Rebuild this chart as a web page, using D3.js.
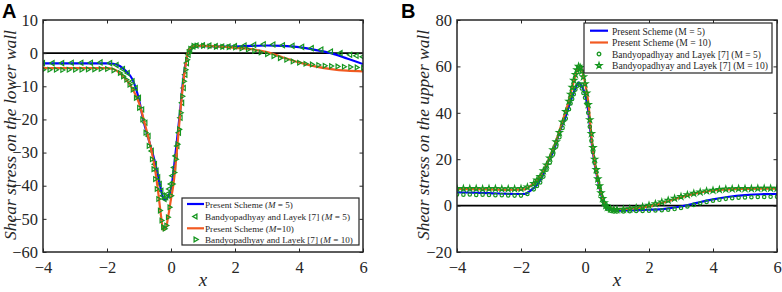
<!DOCTYPE html>
<html><head><meta charset="utf-8">
<script src="https://cdn.jsdelivr.net/npm/d3@7"></script>
</head><body style="margin:0">
<svg id="c" width="782" height="292" font-family="Liberation Serif" style="font-family:'Liberation Serif'"></svg>
<script>
// ---------- Data: panel A (lower wall) ----------
const aBlueX = [-4,-3,-2,-1.8,-1.6,-1.4,-1.2,-1.0,-0.87,-0.7,-0.58,-0.45,-0.34,-0.25,-0.19,-0.1,0.02,0.125,0.2,0.28,0.37,0.45,0.53,0.65,0.85,1.2,1.6,2,2.5,3,3.5,4,4.5,5,5.5,6];
const aBlueY = [-3.1,-3.1,-3.1,-3.2,-3.9,-5.5,-8,-14,-20,-26,-30,-35,-40,-43.5,-44.3,-43.5,-40,-31.7,-25,-18,-9,-3.5,0,1.5,2.1,2.1,2.0,2.0,2.2,2.3,2.2,1.8,1.0,0,-1.6,-3.3];
const aOrangeX = [-4,-3,-2,-1.8,-1.6,-1.4,-1.2,-1.0,-0.8,-0.6,-0.5,-0.4,-0.3,-0.24,-0.15,-0.1,0,0.07,0.18,0.27,0.37,0.45,0.52,0.6,0.8,1,1.5,2,2.5,3,3.5,4,4.5,5,5.5,6];
const aOrangeY = [-4.5,-4.5,-4.5,-4.8,-6,-8,-10.8,-15,-22,-30,-35,-42,-50,-53.4,-52.5,-50,-44,-40,-30,-20,-10,-4,0,1.5,2.2,2.2,2,1.6,1.2,0.3,-1.3,-2.8,-4,-4.8,-5.3,-5.5];
const aRef5X = [-4,-3.7,-3.4,-3.1,-2.8,-2.5,-2.2,-1.9,-1.7,-1.5,-1.35,-1.2,-1.1,-1.0,-0.9,-0.8,-0.7,-0.6,-0.5,-0.45,-0.4,-0.35,-0.3,-0.25,-0.2,-0.15,-0.1,-0.05,0,0.05,0.1,0.15,0.2,0.25,0.3,0.35,0.4,0.45,0.5,0.55,0.6,0.7,0.8,1.0,1.2,1.4,1.6,1.8,2.0,2.3,2.6,2.9,3.2,3.5,3.8,4.1,4.4,4.7,5.0,5.3,5.6,5.8,6.0];
const aRef5Y = [-3.0,-3.0,-3.0,-2.9,-2.9,-2.9,-2.8,-3.0,-3.6,-4.8,-6,-8.5,-10.5,-13.5,-17,-21,-25,-29.5,-33.5,-35.5,-37.5,-39.5,-41.5,-43,-44,-43.5,-42.5,-41,-39.5,-37,-34.5,-31,-28,-24,-19.5,-15,-10.5,-6.5,-3,-0.5,1,2,2.3,2.4,2.3,2.1,2.0,2.0,2.1,2.3,2.5,2.7,2.6,2.4,2.2,1.9,1.5,1.1,0.5,0,-0.5,-0.8,-1.1];
const aRef10X = [-4,-3.8,-3.6,-3.4,-3.2,-3.0,-2.8,-2.6,-2.4,-2.2,-2.0,-1.8,-1.6,-1.5,-1.4,-1.3,-1.2,-1.1,-1.0,-0.9,-0.8,-0.7,-0.6,-0.55,-0.5,-0.45,-0.4,-0.35,-0.3,-0.25,-0.2,-0.15,-0.1,-0.05,0,0.05,0.1,0.15,0.2,0.25,0.3,0.35,0.4,0.45,0.5,0.55,0.6,0.7,0.8,1.0,1.2,1.4,1.6,1.8,2.0,2.2,2.4,2.6,2.8,3.0,3.2,3.4,3.6,3.8,4.0,4.2,4.4,4.6,4.8,5.0,5.2,5.4,5.6,5.8,6.0];
const aRef10Y = [-5.0,-5.0,-5.0,-5.1,-5.0,-5.0,-5.0,-4.9,-4.9,-4.8,-4.8,-5.2,-6,-7,-8,-9.5,-11,-13.5,-16.5,-20,-24,-28,-32,-35,-38,-41,-44,-47.5,-50.5,-52.5,-53,-52,-49.5,-46.5,-43,-39.5,-36,-32,-27.5,-23,-18,-13,-8.5,-5,-2,0,1.3,2.2,2.3,2.2,2,1.9,1.9,1.8,1.7,1.4,1.1,0.7,0.2,-0.3,-0.9,-1.5,-2.0,-2.5,-2.9,-3.2,-3.4,-3.6,-3.8,-3.9,-4.0,-4.1,-4.2,-4.3,-4.4];

// ---------- Data: panel B (upper wall) ----------
const bBlueX = [-4,-3,-2.2,-1.9,-1.7,-1.5,-1.3,-1.2,-1.1,-1.0,-0.9,-0.8,-0.7,-0.6,-0.5,-0.4,-0.3,-0.2,-0.1,0,0.1,0.2,0.3,0.4,0.5,0.6,0.7,0.85,1,1.5,2,2.5,3,3.5,4,4.5,5,5.5,6];
const bBlueY = [5.7,5.4,5.0,5.0,6.5,9,13.5,17.5,20.5,23,27,31.5,35,38.5,43,47,50.5,53,51.5,48,41,28,18,11,5,0.5,-1.2,-2,-2.2,-2,-1.8,-1.4,-0.4,1.2,2.7,3.8,4.5,4.9,5.0];
const bOrangeX = [-4,-3,-2.2,-1.9,-1.7,-1.5,-1.3,-1.1,-0.9,-0.7,-0.55,-0.4,-0.3,-0.2,-0.1,0,0.1,0.2,0.3,0.4,0.5,0.6,0.7,0.85,1,1.5,2,2.5,3,3.5,4,4.5,5,5.5,6];
const bOrangeY = [7.2,7.0,6.8,7,8.5,11,15,21,28,36.5,43,51,56,60,58.5,53,45,30,19,12,6,1.5,-0.5,-1.3,-1.5,-1.2,-0.3,1.5,3.6,5.4,6.5,7.0,7.2,7.3,7.3];
const bRef5X = [-4,-3.8,-3.6,-3.4,-3.2,-3.0,-2.8,-2.6,-2.4,-2.2,-2.0,-1.8,-1.6,-1.5,-1.4,-1.3,-1.2,-1.1,-1.0,-0.9,-0.8,-0.7,-0.6,-0.5,-0.45,-0.4,-0.35,-0.3,-0.25,-0.2,-0.15,-0.1,-0.05,0,0.05,0.1,0.15,0.2,0.25,0.3,0.35,0.4,0.45,0.5,0.55,0.6,0.65,0.7,0.8,0.9,1.0,1.2,1.4,1.6,1.8,2.0,2.2,2.4,2.6,2.8,3.0,3.2,3.4,3.6,3.8,4.0,4.2,4.4,4.6,4.8,5.0,5.2,5.4,5.6,5.8,6.0];
const bRef5Y = [4.8,4.7,4.8,4.6,4.7,4.6,4.5,4.5,4.4,4.3,4.3,5.0,7.0,8.5,10,12.5,15.5,18.5,22,25.5,29.5,33.5,37.5,41.5,44,46,48,50,51.5,52.5,52,50.5,48.5,46.5,44,40,34,28,23,18.5,14.5,11,8,5.5,3,1,-0.5,-1.5,-2.2,-2.5,-2.5,-2.5,-2.4,-2.3,-2.3,-2.2,-2.1,-2.0,-1.8,-1.5,-1.0,-0.4,0.3,1.0,1.6,2.1,2.5,2.9,3.2,3.4,3.5,3.6,3.7,3.7,3.8,3.8];
const bRef10X = [-4,-3.8,-3.6,-3.4,-3.2,-3.0,-2.8,-2.6,-2.4,-2.2,-2.0,-1.8,-1.6,-1.5,-1.4,-1.3,-1.2,-1.1,-1.0,-0.9,-0.8,-0.7,-0.6,-0.5,-0.45,-0.4,-0.35,-0.3,-0.25,-0.2,-0.15,-0.1,-0.05,0,0.05,0.1,0.15,0.2,0.25,0.3,0.35,0.4,0.45,0.5,0.55,0.6,0.65,0.7,0.8,0.9,1.0,1.2,1.4,1.6,1.8,2.0,2.2,2.4,2.6,2.8,3.0,3.2,3.4,3.6,3.8,4.0,4.2,4.4,4.6,4.8,5.0,5.2,5.4,5.6,5.8,6.0];
const bRef10Y = [7.3,7.3,7.3,7.3,7.2,7.3,7.3,7.2,7.2,7.2,7.3,8.0,9.5,11,12.5,15,17.5,20.5,24,27.5,31.5,36,40.5,45,48,51,54,56.5,58.5,60,59.5,58,55.5,52.5,48.5,43.5,37,31,25,20,15.5,11.5,8.5,5.5,3,1.2,0,-0.8,-1.5,-1.7,-1.7,-1.6,-1.4,-1.0,-0.5,0.1,0.8,1.5,2.3,3.1,3.9,4.6,5.3,5.8,6.3,6.6,6.9,7.1,7.2,7.3,7.3,7.3,7.4,7.4,7.4,7.4];

// ---------- Ticks & labels ----------
const xTicks = [-4,-2,0,2,4,6];
const aYTicks = [-60,-50,-40,-30,-20,-10,0,10];
const bYTicks = [-20,0,20,40,60,80];
const aLegend = ["Present Scheme (", "Bandyopadhyay and Layek [7] (", "Present Scheme (", "Bandyopadhyay and Layek [7] ("];
const aLegendTail = [" = 5)", " = 5)", "=10)", " = 10)"];
const bLegend = ["Present Scheme (M = 5)", "Present Scheme (M = 10)", "Bandyopadhyay and Layek [7] (M = 5)", "Bandyopadhyay and Layek [7] (M = 10)"];

const BLUE = "#0000ff", ORANGE = "#f25a22", GREEN = "#15961f", FRAME = "#262626";
const FONT = "Liberation Serif";
const svg = d3.select("#c");

function zip(xs, ys){ return xs.map((x,i)=>({x, y: ys[i]})); }
function serif(sel, px){
  return sel.attr("font-family",FONT).attr("font-size",px)
    .style("font-family","'Liberation Serif'").style("font-size", px+"px");
}
// scale the font size so the text's width matches the width measured on the reference
function fitSize(sel, w, base){
  let L = 0;
  try { L = sel.node().getComputedTextLength(); } catch(e) { L = 0; }
  if (L > 0 && L > w) {
    const s = base * w / L;
    sel.attr("font-size", s).style("font-size", s + "px");
  }
  return sel;
}

function panel(opts){
  const {x0,x1,y0,y1,ydom,yTicks,ylabel,letter,letterX} = opts;
  const x = d3.scaleLinear().domain([-4,6]).range([x0,x1]);
  const y = d3.scaleLinear().domain(ydom).range([y1,y0]);
  const g = svg.append("g");
  const cid = "clip"+letter;
  svg.append("clipPath").attr("id",cid).append("rect").attr("x",x0).attr("y",y0).attr("width",x1-x0).attr("height",y1-y0);
  const plot = g.append("g").attr("clip-path",`url(#${cid})`);
  plot.append("line").attr("x1",x0).attr("x2",x1).attr("y1",y(0)).attr("y2",y(0)).attr("stroke","#000").attr("stroke-width",1.6);
  const tl = 3.5;
  const bottom = g.append("g").attr("transform",`translate(0,${y1})`).call(d3.axisBottom(x).tickValues(xTicks).tickSizeInner(-tl).tickSizeOuter(0).tickPadding(7));
  const top = g.append("g").attr("transform",`translate(0,${y0})`).call(d3.axisTop(x).tickValues(xTicks).tickSizeInner(-tl).tickSizeOuter(0).tickFormat(""));
  const left = g.append("g").attr("transform",`translate(${x0},0)`).call(d3.axisLeft(y).tickValues(yTicks).tickSizeInner(-tl).tickSizeOuter(0).tickPadding(5));
  const right = g.append("g").attr("transform",`translate(${x1},0)`).call(d3.axisRight(y).tickValues(yTicks).tickSizeInner(-tl).tickSizeOuter(0).tickFormat(""));
  [bottom,top,left,right].forEach(a=>{
    a.select(".domain").remove();
    a.attr("font-family",FONT).attr("font-size",16.5);
    a.selectAll("line").attr("stroke",FRAME).attr("stroke-width",1);
    serif(a.selectAll("text"),16.5).attr("fill",FRAME);
  });
  bottom.selectAll("text").attr("dy","0.85em");
  g.append("rect").attr("x",x0).attr("y",y0).attr("width",x1-x0).attr("height",y1-y0).attr("fill","none").attr("stroke",FRAME).attr("stroke-width",1.5);
  serif(g.append("text"),19).attr("x",(x0+x1)/2).attr("y",286).attr("text-anchor","middle").attr("font-style","italic").style("font-style","italic").attr("fill",FRAME).text("x");
  const yl = serif(g.append("text"),18).attr("transform",`translate(${opts.ylx},${(y0+y1)/2-1}) rotate(-90)`).attr("text-anchor","middle").attr("font-style","italic").style("font-style","italic").attr("fill",FRAME).text(ylabel);
  fitSize(yl, 210, 18);
  svg.append("text").attr("x",letterX).attr("y",17.5).attr("font-family","Liberation Sans").style("font-family","'Liberation Sans'").attr("font-weight","bold").style("font-weight","bold").style("font-size","20px").attr("fill","#000").text(letter);
  return {x,y,plot,g};
}

function drawLine(p, xs, ys, color){
  p.plot.append("path").datum(zip(xs,ys)).attr("fill","none").attr("stroke",color).attr("stroke-width",2.2)
    .attr("d", d3.line().x(d=>p.x(d.x)).y(d=>p.y(d.y)).curve(d3.curveMonotoneX));
}
function drawMarks(p, xs, ys, type, size, rot){
  p.plot.append("g").selectAll("path").data(zip(xs,ys)).join("path")
    .attr("transform", d=>`translate(${p.x(d.x)},${p.y(d.y)}) rotate(${rot})`)
    .attr("d", d3.symbol().type(type).size(size))
    .attr("fill","none").attr("stroke",GREEN).attr("stroke-width",1.2);
}

// ---------- Panel A ----------
const A = panel({x0:43,x1:363,y0:20,y1:252,ydom:[-60,10],yTicks:aYTicks,ylabel:"Shear stress on the lower wall",letter:"A",letterX:2,ylx:16});
drawLine(A, aBlueX, aBlueY, BLUE);
drawMarks(A, aRef5X, aRef5Y, d3.symbolTriangle, 11, -90);
drawLine(A, aOrangeX, aOrangeY, ORANGE);
drawMarks(A, aRef10X, aRef10Y, d3.symbolTriangle, 9, 90);

// legend A
(function(){
  const lx=182, ly=198, lw=177, lh=47;
  const lg = svg.append("g");
  lg.append("rect").attr("x",lx).attr("y",ly).attr("width",lw).attr("height",lh).attr("fill","#fff").attr("stroke",FRAME).attr("stroke-width",1.2);
  const rows=[204,216.5,228.3,239.5];
  const kinds=["lineB","tri5","lineO","tri10"];
  const widths=[88,145,89,148];
  rows.forEach((ry,i)=>{
    const k=kinds[i];
    if(k==="lineB"||k==="lineO"){
      lg.append("line").attr("x1",187).attr("x2",204).attr("y1",ry).attr("y2",ry).attr("stroke",k==="lineB"?BLUE:ORANGE).attr("stroke-width",2.2);
    } else {
      lg.append("path").attr("transform",`translate(195.5,${ry}) rotate(${k==="tri5"?-90:90})`).attr("d",d3.symbol().type(d3.symbolTriangle).size(10)).attr("fill","none").attr("stroke",GREEN).attr("stroke-width",1.3);
    }
    const t = serif(lg.append("text"),11.5).attr("x",205).attr("y",ry+3.8).attr("fill",FRAME);
    t.append("tspan").text(aLegend[i]);
    t.append("tspan").attr("font-style","italic").style("font-style","italic").text("M");
    t.append("tspan").text(aLegendTail[i]);
    fitSize(t, widths[i], 11.5);
  });
})();

// ---------- Panel B ----------
const B = panel({x0:457,x1:777,y0:20,y1:252,ydom:[-20,80],yTicks:bYTicks,ylabel:"Shear stress on the upper wall",letter:"B",letterX:401,ylx:429});
drawLine(B, bBlueX, bBlueY, BLUE);
drawLine(B, bOrangeX, bOrangeY, ORANGE);
drawMarks(B, bRef5X, bRef5Y, d3.symbolCircle, 9, 0);
drawMarks(B, bRef10X, bRef10Y, d3.symbolStar, 11, 0);

// legend B
(function(){
  const lx=584, ly=23, lw=188, lh=50;
  const lg = svg.append("g");
  lg.append("rect").attr("x",lx).attr("y",ly).attr("width",lw).attr("height",lh).attr("fill","#fff").attr("stroke",FRAME).attr("stroke-width",1.2);
  const rows=[30.7,42.5,54,65.5];
  const widths=[93,99,149,156];
  rows.forEach((ry,i)=>{
    if(i<2){
      lg.append("line").attr("x1",590).attr("x2",608).attr("y1",ry).attr("y2",ry).attr("stroke",i===0?BLUE:ORANGE).attr("stroke-width",2.2);
    } else {
      lg.append("path").attr("transform",`translate(599,${ry})`).attr("d",d3.symbol().type(i===2?d3.symbolCircle:d3.symbolStar).size(10)).attr("fill","none").attr("stroke",GREEN).attr("stroke-width",1.3);
    }
    const t = serif(lg.append("text"),11.8).attr("x",612).attr("y",ry+3.8).attr("fill",FRAME).text(bLegend[i]);
    fitSize(t, widths[i], 11.8);
  });
})();
</script></body></html>
